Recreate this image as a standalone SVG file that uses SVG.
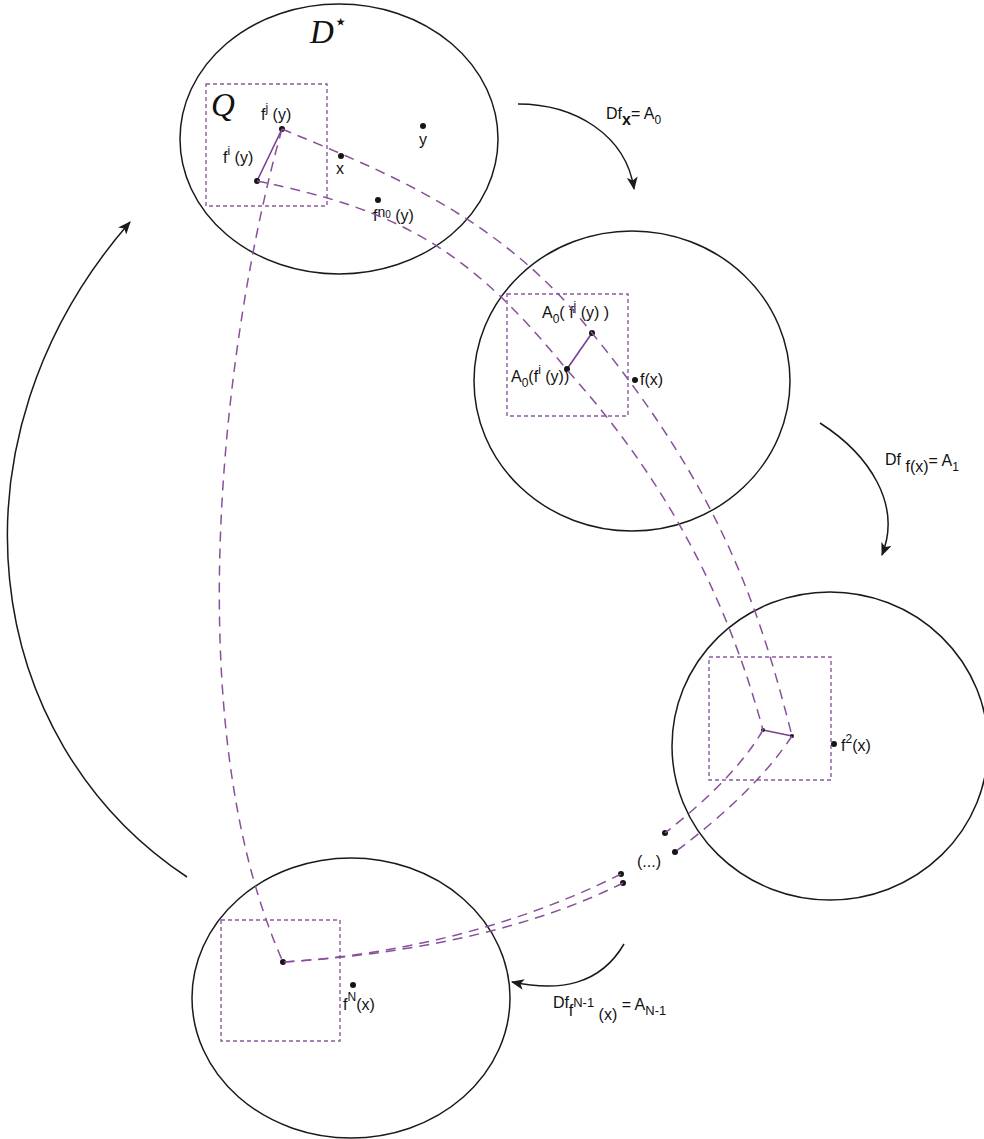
<svg xmlns="http://www.w3.org/2000/svg" width="984" height="1139" viewBox="0 0 984 1139">
<style>
.disk{fill:none;stroke:#1a1a1a;stroke-width:1.5}
.box{fill:none;stroke:#8c5aa0;stroke-width:1.4;stroke-dasharray:4 3}
.orb{fill:none;stroke:#8a4f9c;stroke-width:1.5;stroke-dasharray:10 7}
.seg{fill:none;stroke:#7a3f90;stroke-width:1.6}
.arr{fill:none;stroke:#1a1a1a;stroke-width:1.5;marker-end:url(#ah)}
.dot{fill:#151515}
text{font-family:"Liberation Sans",Arial,sans-serif;font-size:16px;fill:#111}
.cal{font-family:"Liberation Serif","DejaVu Serif",serif;font-style:italic;font-size:33px}
.sm{font-size:12px}
</style>
<defs>
<marker id="ah" viewBox="0 0 12 10" refX="11" refY="5" markerWidth="13" markerHeight="11" markerUnits="userSpaceOnUse" orient="auto">
<path d="M0,0 L12,5 L0,10 L3,5 Z" fill="#1a1a1a"/>
</marker>
</defs>

<g id="disk-Dstar">
<ellipse class="disk" cx="339" cy="139" rx="159" ry="135"/>
<rect class="box" x="206" y="84" width="121" height="122"/>
<text class="cal" x="310" y="43">D<tspan font-family="DejaVu Sans,sans-serif" font-style="normal" font-size="22" dy="-14">⋆</tspan></text>
<text class="cal" x="211" y="116">Q</text>
<line class="seg" x1="282" y1="129" x2="257" y2="181"/>
<circle class="dot" cx="282" cy="129" r="3"/>
<circle class="dot" cx="257" cy="181" r="3"/>
<circle class="dot" cx="341" cy="156" r="3"/>
<circle class="dot" cx="423" cy="126" r="3"/>
<circle class="dot" cx="378" cy="200" r="3"/>
<text x="261" y="120">f<tspan class="sm" dy="-8">j</tspan><tspan dy="8"> (y)</tspan></text>
<text x="223" y="163">f<tspan class="sm" dy="-8">i</tspan><tspan dy="8"> (y)</tspan></text>
<text x="336" y="174">x</text>
<text x="419" y="145">y</text>
<text x="373" y="221">f<tspan font-size="14" dy="-4">n</tspan><tspan font-size="10" dy="1">0</tspan><tspan dy="3"> (y)</tspan></text>
</g>

<g id="disk-fx">
<ellipse class="disk" cx="632" cy="381" rx="158" ry="150"/>
<rect class="box" x="507" y="294" width="121" height="122"/>
<line class="seg" x1="592" y1="333" x2="567" y2="369"/>
<circle class="dot" cx="592" cy="333" r="3"/>
<circle class="dot" cx="567" cy="369" r="3"/>
<circle class="dot" cx="635" cy="380" r="3"/>
<text x="542" y="318">A<tspan class="sm" dy="5">0</tspan><tspan dy="-5">( f</tspan><tspan class="sm" dy="-8">j</tspan><tspan dy="8"> (y) )</tspan></text>
<text x="511" y="382">A<tspan class="sm" dy="5">0</tspan><tspan dy="-5">(f</tspan><tspan class="sm" dy="-8">i</tspan><tspan dy="8"> (y))</tspan></text>
<text x="640" y="385">f(x)</text>
</g>

<g id="disk-f2x">
<ellipse class="disk" cx="830" cy="746" rx="158" ry="154"/>
<rect class="box" x="709" y="657" width="122" height="123"/>
<line class="seg" x1="763" y1="730" x2="792" y2="736"/>
<circle class="dot" cx="763" cy="730" r="2"/>
<circle class="dot" cx="792" cy="736" r="2"/>
<circle class="dot" cx="834" cy="744" r="3"/>
<text x="841" y="751">f<tspan class="sm" dy="-8">2</tspan><tspan dy="8">(x)</tspan></text>
</g>

<g id="ellipsis">
<circle class="dot" cx="665" cy="833" r="3"/>
<circle class="dot" cx="675" cy="852" r="3"/>
<circle class="dot" cx="621" cy="874" r="3"/>
<circle class="dot" cx="623" cy="883" r="3"/>
<text x="637" y="867" font-size="14">(...)</text>
</g>

<g id="disk-fNx">
<ellipse class="disk" cx="351" cy="998" rx="159" ry="140"/>
<rect class="box" x="221" y="920" width="119" height="121"/>
<circle class="dot" cx="283" cy="962" r="3"/>
<circle class="dot" cx="353" cy="985" r="3"/>
<text x="343" y="1010">f<tspan class="sm" dy="-9">N</tspan><tspan dy="9">(x)</tspan></text>
</g>

<g id="orbits">
<path class="orb" d="M282,129 C380,170 500,215 592,333 C720,490 759,606 792,736"/>
<path class="orb" d="M257,181 C400,210 470,250 567,370 C680,495 733,620 763,730"/>
<path class="orb" d="M763,730 Q735,778 665,833"/>
<path class="orb" d="M792,736 Q755,792 675,852"/>
<path class="orb" d="M621,874 C520,925 400,955 283,962"/>
<path class="orb" d="M623,883 C525,932 400,955 283,962"/>
<path class="orb" d="M282,129 C225,330 175,720 283,962"/>
</g>

<g id="connectors">
<path class="arr" d="M518,104 C575,104 626,135 634,189"/>
<path class="arr" d="M820,423 C870,455 902,505 882,555"/>
<path class="arr" d="M624,944 C600,985 560,992 512,982"/>
<path class="arr" d="M187,877 C-20,740 -60,440 130,222"/>
</g>

<g id="labels">
<text x="606" y="119">Df<tspan font-weight="bold" dy="6">x</tspan><tspan dy="-6">= A</tspan><tspan class="sm" dy="5">0</tspan></text>
<text x="885" y="465">Df<tspan dy="7"> f(x)</tspan><tspan dy="-6">= A</tspan><tspan class="sm" dy="5">1</tspan></text>
<text x="553" y="1008">Df<tspan dy="8">f</tspan><tspan font-size="13" dy="-9">N-1</tspan><tspan dy="13"> (x)</tspan><tspan dy="-10"> = A</tspan><tspan font-size="13" dy="5">N-1</tspan></text>
</g>
</svg>
